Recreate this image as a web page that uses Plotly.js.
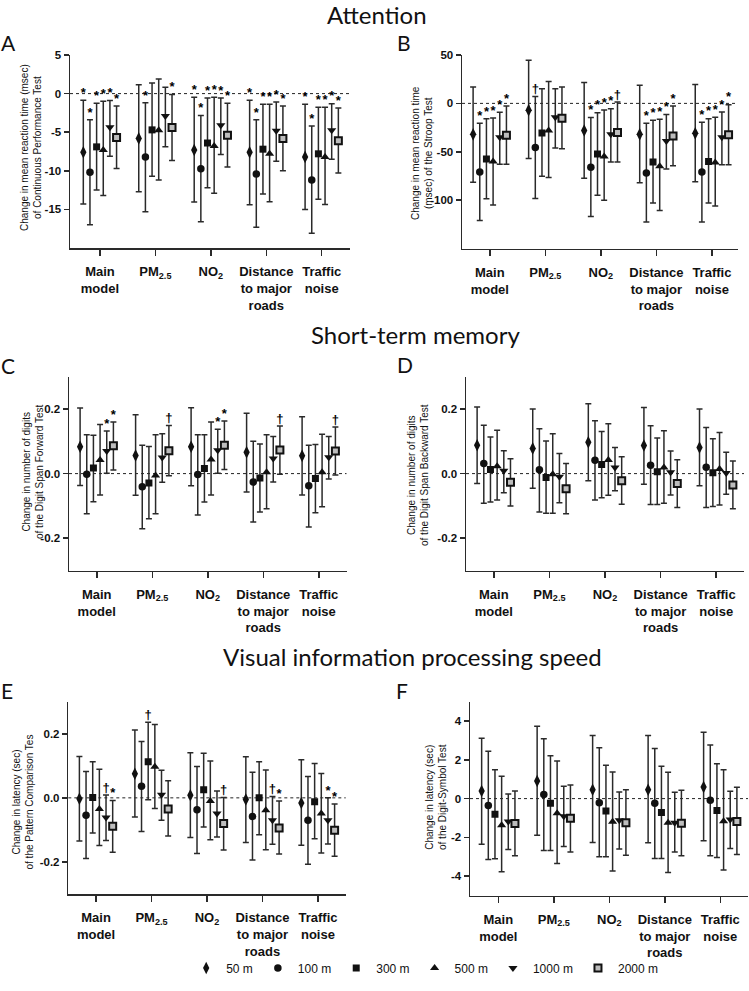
<!DOCTYPE html>
<html>
<head>
<meta charset="utf-8">
<script src="https://cdn.plot.ly/plotly-3.0.1.min.js"></script>
<style>html,body{margin:0;padding:0;background:#fff;}#chart{width:749px;height:991px;}</style>
</head>
<body>
<div id="chart"></div>
<script>
// ---------- categories / series ----------
const groups = ['Main<br>model', 'PM<sub>2.5</sub>', 'NO<sub>2</sub>', 'Distance<br>to major<br>roads', 'Traffic<br>noise'];
const buffers = ['50 m', '100 m', '300 m', '500 m', '1000 m', '2000 m'];

// ---------- Panel A: Continuous Performance Test (msec) ----------
const A_est = [
  [-7.6, -5.8, -7.3, -7.6, -8.2],
  [-10.2, -8.2, -9.74, -10.4, -11.2],
  [-6.9, -4.7, -6.4, -7.2, -7.8],
  [-7.3, -4.75, -6.8, -7.8, -8.2],
  [-4.35, -2.9, -4.1, -4.8, -4.75],
  [-5.7, -4.4, -5.4, -5.8, -6.1]
];
const A_lo = [
  [-14.3, -12.7, -14.05, -14.4, -15.0],
  [-17.0, -15.3, -16.6, -17.3, -18.1],
  [-12.5, -10.7, -12.2, -13.0, -13.7],
  [-13.2, -11.2, -12.9, -14.0, -14.35],
  [-8.1, -6.9, -7.9, -8.75, -8.5],
  [-9.7, -8.66, -9.5, -10.0, -10.3]
];
const A_hi = [
  [-0.86, 1.16, -0.47, -0.86, -1.38],
  [-3.4, -1.2, -2.84, -3.4, -4.2],
  [-1.25, 1.38, -0.56, -1.38, -1.77],
  [-1.0, 1.9, -0.47, -1.38, -1.77],
  [-0.9, 0.82, -0.56, -1.1, -1.3],
  [-1.6, -0.13, -1.25, -1.6, -1.85]
];
const A_sig = [
  ['*', '', '*', '*', '*'],
  ['*', '*', '*', '*', '*'],
  ['*', '', '*', '*', '*'],
  ['*', '', '*', '*', '*'],
  ['*', '', '*', '*', '*'],
  ['*', '*', '*', '*', '*']
];
const A_tickvals = [-15, -10, -5, 0, 5];
const A_ticktext = ['-15', '-10', '-5', '0', '5'];
const A_title = 'Change in mean reaction time (msec)<br>of Continuous Performance Test';

// ---------- Panel B: Stroop Test (msec) ----------
const B_est = [
  [-32, -7, -28, -32, -31],
  [-71, -45.5, -66, -72, -71],
  [-57.5, -30.5, -52.4, -60.6, -60],
  [-60, -28, -55, -65, -61],
  [-35, -14.4, -32, -39, -35],
  [-33, -15.4, -30, -33.6, -32.5]
];
const B_lo = [
  [-81.5, -57, -77.4, -82, -81],
  [-121, -98.3, -116.8, -122.6, -122.6],
  [-98.6, -75.3, -94.9, -103, -103],
  [-105, -76.7, -100, -110.6, -106],
  [-63, -46, -60.6, -67.8, -63.4],
  [-63, -47, -60.6, -64.4, -63.4]
];
const B_hi = [
  [17, 44.5, 21.6, 18.8, 19.5],
  [-20.5, 7.2, -14.7, -20.5, -19.5],
  [-16, 15, -9.6, -17.5, -15.8],
  [-15, 22.6, -6.8, -16.4, -14.4],
  [-9.2, 15, -5.5, -11.6, -8.9],
  [-2.7, 16.8, 1.4, -2.7, -1.4]
];
const B_sig = [
  ['', '', '', '', ''],
  ['*', '†', '*', '*', '*'],
  ['*', '', '*', '*', '*'],
  ['*', '', '*', '*', '*'],
  ['*', '', '*', '*', '*'],
  ['*', '', '†', '*', '*']
];
const B_tickvals = [-100, -50, 0, 50];
const B_ticktext = ['-100', '-50', '0', '50'];
const B_title = 'Change in mean reaction time<br>(msec) of the Stroop Test';

// ---------- Panel C: Digit Span Forward ----------
const C_est = [
  [0.083, 0.056, 0.083, 0.066, 0.055],
  [-0.002, -0.041, -0.003, -0.026, -0.038],
  [0.017, -0.029, 0.016, -0.014, -0.015],
  [0.042, -0.006, 0.044, 0.004, 0.004],
  [0.07, 0.05, 0.072, 0.047, 0.051],
  [0.086, 0.071, 0.088, 0.073, 0.07]
];
const C_lo = [
  [-0.037, -0.067, -0.038, -0.057, -0.066],
  [-0.124, -0.171, -0.128, -0.15, -0.165],
  [-0.087, -0.14, -0.088, -0.119, -0.121],
  [-0.066, -0.124, -0.066, -0.109, -0.103],
  [0.001, -0.027, 0.001, -0.026, -0.017],
  [0.011, -0.007, 0.013, -0.002, -0.004]
];
const C_hi = [
  [0.203, 0.182, 0.204, 0.187, 0.176],
  [0.12, 0.088, 0.12, 0.1, 0.088],
  [0.119, 0.084, 0.12, 0.092, 0.09],
  [0.152, 0.12, 0.16, 0.12, 0.122],
  [0.132, 0.123, 0.137, 0.115, 0.115],
  [0.16, 0.149, 0.163, 0.147, 0.144]
];
const C_sig = [
  ['', '', '', '', ''],
  ['', '', '', '', ''],
  ['', '', '', '', ''],
  ['', '', '', '', ''],
  ['*', '', '*', '', ''],
  ['*', '†', '*', '†', '†']
];
const C_tickvals = [-0.2, 0, 0.2];
const C_ticktext = ['-0.2', '0.0', '0.2'];
const C_title = 'Change in number of digits<br>of the Digit Span Forward Test';

// ---------- Panel D: Digit Span Backward ----------
const D_est = [
  [0.088, 0.078, 0.097, 0.087, 0.081],
  [0.031, 0.012, 0.041, 0.026, 0.02],
  [0.013, -0.012, 0.028, 0.006, 0.003],
  [0.023, -0.002, 0.042, 0.019, 0.014],
  [0.009, -0.01, 0.019, 0.004, 0.002],
  [-0.027, -0.047, -0.022, -0.031, -0.035]
];
const D_lo = [
  [-0.031, -0.045, -0.022, -0.033, -0.038],
  [-0.092, -0.119, -0.082, -0.096, -0.105],
  [-0.088, -0.123, -0.075, -0.096, -0.102],
  [-0.082, -0.123, -0.067, -0.092, -0.097],
  [-0.059, -0.09, -0.053, -0.066, -0.064],
  [-0.1, -0.124, -0.095, -0.105, -0.109]
];
const D_hi = [
  [0.206, 0.2, 0.216, 0.205, 0.2],
  [0.15, 0.139, 0.164, 0.148, 0.143],
  [0.113, 0.101, 0.13, 0.11, 0.108],
  [0.134, 0.123, 0.154, 0.133, 0.127],
  [0.071, 0.062, 0.081, 0.07, 0.066],
  [0.046, 0.031, 0.052, 0.043, 0.039]
];
const D_sig = [
  ['', '', '', '', ''], ['', '', '', '', ''], ['', '', '', '', ''],
  ['', '', '', '', ''], ['', '', '', '', ''], ['', '', '', '', '']
];
const D_tickvals = [-0.2, 0, 0.2];
const D_ticktext = ['-0.2', '0.0', '0.2'];
const D_title = 'Change in number of digits<br>of the Digit Span Backward Test';

// ---------- Panel E: Pattern Comparison (sec) ----------
const E_est = [
  [-0.003, 0.075, 0.008, -0.005, -0.016],
  [-0.054, 0.036, -0.037, -0.058, -0.07],
  [0.001, 0.113, 0.025, 0.0, -0.012],
  [-0.035, 0.097, -0.01, -0.039, -0.049],
  [-0.061, 0.01, -0.049, -0.07, -0.07],
  [-0.089, -0.035, -0.08, -0.094, -0.101]
];
const E_lo = [
  [-0.135, -0.06, -0.124, -0.139, -0.148],
  [-0.189, -0.105, -0.174, -0.194, -0.207],
  [-0.11, -0.006, -0.091, -0.115, -0.128],
  [-0.149, -0.033, -0.131, -0.162, -0.172],
  [-0.133, -0.07, -0.122, -0.145, -0.144],
  [-0.17, -0.119, -0.163, -0.175, -0.182]
];
const E_hi = [
  [0.129, 0.212, 0.141, 0.128, 0.119],
  [0.082, 0.176, 0.098, 0.08, 0.067],
  [0.113, 0.236, 0.139, 0.113, 0.107],
  [0.089, 0.229, 0.115, 0.087, 0.076],
  [0.009, 0.086, 0.021, 0.004, 0.0],
  [-0.008, 0.053, 0.001, -0.01, -0.019]
];
const E_sig = [
  ['', '', '', '', ''],
  ['', '', '', '', ''],
  ['', '†', '', '', ''],
  ['', '', '', '', ''],
  ['†', '', '', '†', '*'],
  ['*', '', '†', '*', '*']
];
const E_tickvals = [-0.2, 0, 0.2];
const E_ticktext = ['-0.2', '0.0', '0.2'];
const E_title = 'Change in latency (sec)<br>of the Pattern Comparison Tes';

// ---------- Panel F: Digit-Symbol (sec) ----------
const F_est = [
  [0.39, 0.91, 0.46, 0.46, 0.6],
  [-0.36, 0.21, -0.21, -0.24, -0.09],
  [-0.81, -0.24, -0.64, -0.72, -0.62],
  [-1.37, -0.76, -1.2, -1.25, -1.17],
  [-1.18, -0.91, -1.12, -1.24, -1.08],
  [-1.29, -1.01, -1.24, -1.27, -1.18]
];
const F_lo = [
  [-2.35, -1.89, -2.27, -2.28, -2.18],
  [-3.14, -2.68, -3.0, -3.09, -2.95],
  [-3.1, -2.68, -3.0, -3.09, -3.04],
  [-3.78, -3.35, -3.73, -3.81, -3.69],
  [-2.63, -2.47, -2.6, -2.76, -2.58],
  [-2.95, -2.76, -2.92, -2.95, -2.88]
];
const F_hi = [
  [3.12, 3.73, 3.26, 3.26, 3.42],
  [2.44, 3.09, 2.63, 2.58, 2.76],
  [1.49, 2.21, 1.72, 1.67, 1.8],
  [1.15, 1.94, 1.37, 1.36, 1.49],
  [0.24, 0.64, 0.34, 0.33, 0.38],
  [0.39, 0.7, 0.46, 0.43, 0.58]
];
const F_sig = [
  ['', '', '', '', ''], ['', '', '', '', ''], ['', '', '', '', ''],
  ['', '', '', '', ''], ['', '', '', '', ''], ['', '', '', '', '']
];
const F_tickvals = [-4, -2, 0, 2, 4];
const F_ticktext = ['-4', '-2', '0', '2', '4'];
const F_title = 'Change in latency (sec)<br>of the Digit-Symbol Test';

const sectionTitles = ['Attention', 'Short-term memory', 'Visual information processing speed'];
const panelLetters = ['A', 'B', 'C', 'D', 'E', 'F'];

// ---------- styling / layout (not data) ----------
const W = 749, H = 991;
const offsets = [-0.3, -0.18, -0.06, 0.06, 0.18, 0.3];
const symbols = ['diamond-tall', 'circle', 'square', 'triangle-up', 'triangle-down', 'square'];
const msizes = [9, 7.5, 7, 8, 8, 7];
const mfill = ['#111', '#111', '#111', '#111', '#111', '#bdbdbd'];
const mline = [0, 0, 0, 0, 0, 2];
const INK = '#2a2a2a';
const FONT = 'Liberation Sans, Arial, sans-serif';
const TITLEFONT = 'Lato, Noto Sans, sans-serif';

function xd(a, b) { return [a / W, b / W]; }
function yd(top, bottom) { return [1 - bottom / H, 1 - top / H]; }

const panels = [
  {est: A_est, lo: A_lo, hi: A_hi, sig: A_sig, tv: A_tickvals, tt: A_ticktext, title: A_title,
   xdom: xd(70, 350), ydom: yd(55, 248), xr: [-0.54, 4.51], yr: [-20, 5], letter: [8.5, 42.5], tpos: [31, 148]},
  {est: B_est, lo: B_lo, hi: B_hi, sig: B_sig, tv: B_tickvals, tt: B_ticktext, title: B_title,
   xdom: xd(462, 738), ydom: yd(55, 248.5), xr: [-0.5, 4.47], yr: [-150, 50], letter: [403.5, 42.5], tpos: [422, 153]},
  {est: C_est, lo: C_lo, hi: C_hi, sig: C_sig, tv: C_tickvals, tt: C_ticktext, title: C_title,
   xdom: xd(69, 346.5), ydom: yd(376.7, 570.5), xr: [-0.5, 4.5], yr: [-0.3, 0.3], letter: [8, 366], tpos: [33, 472]},
  {est: D_est, lo: D_lo, hi: D_hi, sig: D_sig, tv: D_tickvals, tt: D_ticktext, title: D_title,
   xdom: xd(466, 744), ydom: yd(376.7, 570.5), xr: [-0.5, 4.5], yr: [-0.3, 0.3], letter: [405, 364], tpos: [418, 475]},
  {est: E_est, lo: E_lo, hi: E_hi, sig: E_sig, tv: E_tickvals, tt: E_ticktext, title: E_title,
   xdom: xd(68.3, 345.7), ydom: yd(701.7, 894), xr: [-0.5, 4.5], yr: [-0.3, 0.3], letter: [7, 690.5], tpos: [22.5, 802]},
  {est: F_est, lo: F_lo, hi: F_hi, sig: F_sig, tv: F_tickvals, tt: F_ticktext, title: F_title,
   xdom: xd(470, 748), ydom: yd(701.7, 895.5), xr: [-0.51, 4.5], yr: [-5, 5], letter: [401.5, 690.5], tpos: [436, 797]}
];

const traces = [];
const layout = {
  width: W, height: H,
  margin: {l: 0, r: 0, t: 0, b: 0, pad: 0},
  paper_bgcolor: '#fff', plot_bgcolor: '#fff',
  font: {family: FONT, color: '#111'},
  showlegend: true,
  legend: {orientation: 'h', x: 0.567, xanchor: 'center', y: 1 - 968 / H, yanchor: 'middle',
           font: {size: 12, family: FONT, color: '#111'}, bgcolor: 'rgba(0,0,0,0)', itemwidth: 30, tracegroupgap: 0},
  shapes: [], annotations: []
};

panels.forEach((p, k) => {
  const suf = k === 0 ? '' : String(k + 1);
  const xa = 'x' + suf, ya = 'y' + suf;
  for (let s = 0; s < buffers.length; s++) {
    const xs = groups.map((g, i) => i + offsets[s]);
    traces.push({
      type: 'scatter', mode: 'markers', name: buffers[s], legendgroup: buffers[s],
      showlegend: k === 0, xaxis: xa, yaxis: ya,
      x: xs, y: p.est[s],
      error_y: {type: 'data', symmetric: false,
                array: p.hi[s].map((v, i) => v - p.est[s][i]),
                arrayminus: p.est[s].map((v, i) => v - p.lo[s][i]),
                color: INK, thickness: 1.5, width: 3},
      marker: {symbol: symbols[s], size: msizes[s], color: mfill[s], line: {color: '#111', width: mline[s]}},
      hoverinfo: 'skip'
    });
  }
  // significance markers placed at each upper confidence limit
  const tx = [], ty = [], tt = [];
  for (let s = 0; s < buffers.length; s++) {
    for (let i = 0; i < groups.length; i++) {
      if (p.sig[s][i]) { tx.push(i + offsets[s]); ty.push(p.hi[s][i]); tt.push(p.sig[s][i]); }
    }
  }
  if (tx.length) {
    traces.push({type: 'scatter', mode: 'text', x: tx, y: ty, text: tt, textposition: 'top center',
                 textfont: {size: 13, family: FONT, color: '#000', weight: 700}, cliponaxis: false,
                 showlegend: false, hoverinfo: 'skip', xaxis: xa, yaxis: ya});
  }

  layout['xaxis' + suf] = {
    domain: p.xdom, anchor: ya, range: p.xr, tickvals: groups.map((g, i) => i), ticktext: groups,
    showgrid: false, zeroline: false, showline: true, linecolor: INK, linewidth: 1.5,
    ticks: 'outside', ticklen: 6, tickwidth: 1.5, tickcolor: INK, ticklabelstandoff: 5,
    tickfont: {size: 13, family: FONT, weight: 700, color: '#111'}, fixedrange: true
  };
  layout['yaxis' + suf] = {
    domain: p.ydom, anchor: xa, range: p.yr, tickvals: p.tv, ticktext: p.tt,
    showgrid: false, zeroline: false, showline: true, linecolor: INK, linewidth: 1.5,
    ticks: 'outside', ticklen: 5, tickwidth: 1.5, tickcolor: INK,
    tickfont: {size: 11.5, family: FONT, weight: 700, color: '#111'}, fixedrange: true
  };
  layout.shapes.push({type: 'line', xref: xa + ' domain', yref: ya, x0: 0, x1: 1, y0: 0, y1: 0,
                      line: {color: '#222', width: 1, dash: 'dot'}, layer: 'below'});
  // y-axis title (rotated)
  layout.annotations.push({text: p.title, xref: 'paper', yref: 'paper', x: p.tpos[0] / W, y: 1 - p.tpos[1] / H,
                           xanchor: 'center', yanchor: 'middle', textangle: -90, showarrow: false,
                           font: {size: 10, family: FONT, color: '#111'}});
  layout.annotations.push({text: panelLetters[k], xref: 'paper', yref: 'paper', x: p.letter[0] / W, y: 1 - p.letter[1] / H,
                           xanchor: 'center', yanchor: 'middle', showarrow: false,
                           font: {size: 21, family: TITLEFONT, color: '#111'}});
});

const titlePos = [[377, 14.5], [415, 334], [412, 656]];
sectionTitles.forEach((t, i) => {
  layout.annotations.push({text: t, xref: 'paper', yref: 'paper', x: titlePos[i][0] / W, y: 1 - titlePos[i][1] / H,
                           xanchor: 'center', yanchor: 'middle', showarrow: false,
                           font: {size: 24, family: TITLEFONT, color: '#111'}});
});

Plotly.newPlot('chart', traces, layout, {staticPlot: true, displayModeBar: false});
</script>
</body>
</html>
